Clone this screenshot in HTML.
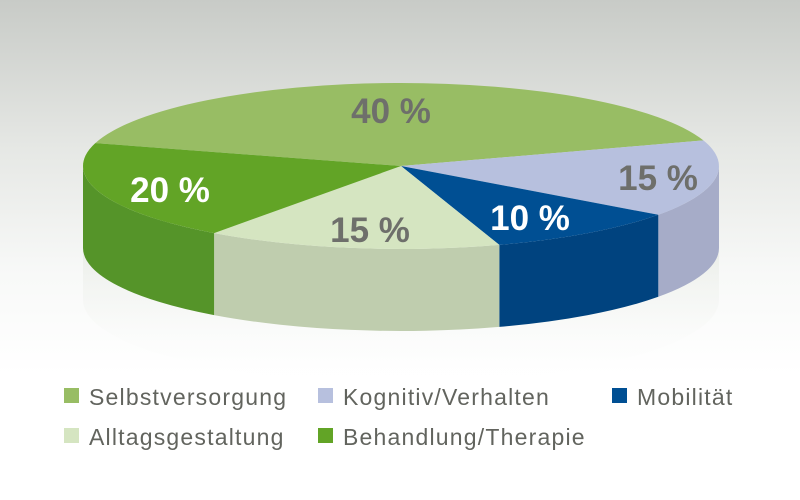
<!DOCTYPE html>
<html><head><meta charset="utf-8"><style>
html,body{margin:0;padding:0}
body{width:800px;height:500px;overflow:hidden;background:linear-gradient(#c8cbc7 0%,#e6e8e5 30%,#f8f9f8 55%,#fff 75%)}
svg{display:block}
</style></head><body>
<svg width="800" height="500" viewBox="0 0 800 500" xmlns="http://www.w3.org/2000/svg">
<defs>
<linearGradient id="refl" x1="0" y1="0" x2="0" y2="1">
<stop offset="0" stop-color="#e3e7e0" stop-opacity="0.6"/>
<stop offset="1" stop-color="#ffffff" stop-opacity="0"/>
</linearGradient>
</defs>
<path d="M83,248 L83,300 A318,83 0 0 0 719,300 L719,248 A318,83 0 0 1 83,248 Z" fill="url(#refl)"/>
<path d="M719,166 A318,83 0 0 1 658.3,214.8 L658.3,296.8 A318,83 0 0 0 719,248 Z" fill="#a6acc8"/>
<path d="M658.3,214.8 A318,83 0 0 1 499.3,244.9 L499.3,326.9 A318,83 0 0 0 658.3,296.8 Z" fill="#00437f"/>
<path d="M499.3,244.9 A318,83 0 0 1 214.1,233.1 L214.1,315.1 A318,83 0 0 0 499.3,326.9 Z" fill="#bfcdae"/>
<path d="M214.1,233.1 A318,83 0 0 1 83,166 L83,248 A318,83 0 0 0 214.1,315.1 Z" fill="#559429"/>
<path d="M401,166 L95.3,143.1 A318,83 0 0 1 703.4,140.4 Z" fill="#98bd64"/>
<path d="M401,166 L703.4,140.4 A318,83 0 0 1 658.3,214.8 Z" fill="#b7c0de"/>
<path d="M401,166 L658.3,214.8 A318,83 0 0 1 499.3,244.9 Z" fill="#004f93"/>
<path d="M401,166 L499.3,244.9 A318,83 0 0 1 214.1,233.1 Z" fill="#d5e5c1"/>
<path d="M401,166 L214.1,233.1 A318,83 0 0 1 95.3,143.1 Z" fill="#62a426"/>
<g font-family="Liberation Sans, sans-serif" font-weight="bold" font-size="35">
<text x="391" y="123" text-anchor="middle" fill="#6e6f6b">40 %</text>
<text x="658" y="190" text-anchor="middle" fill="#6e6f6b">15 %</text>
<text x="530" y="230" text-anchor="middle" fill="#ffffff">10 %</text>
<text x="370" y="242" text-anchor="middle" fill="#6e6f6b">15 %</text>
<text x="170" y="202" text-anchor="middle" fill="#ffffff">20 %</text>
</g>
<g font-family="Liberation Sans, sans-serif" font-size="23" letter-spacing="1.2" fill="#62645e">
<rect x="64" y="388" width="15" height="15" fill="#98bd64"/>
<text x="89" y="405">Selbstversorgung</text>
<rect x="318" y="388" width="15" height="15" fill="#b7c0de"/>
<text x="343" y="405">Kognitiv/Verhalten</text>
<rect x="612" y="388" width="15" height="15" fill="#004f93"/>
<text x="637" y="405">Mobilität</text>
<rect x="64" y="428" width="15" height="15" fill="#d5e5c1"/>
<text x="89" y="445">Alltagsgestaltung</text>
<rect x="318" y="428" width="15" height="15" fill="#62a426"/>
<text x="343" y="445">Behandlung/Therapie</text>
</g>
</svg>
</body></html>
